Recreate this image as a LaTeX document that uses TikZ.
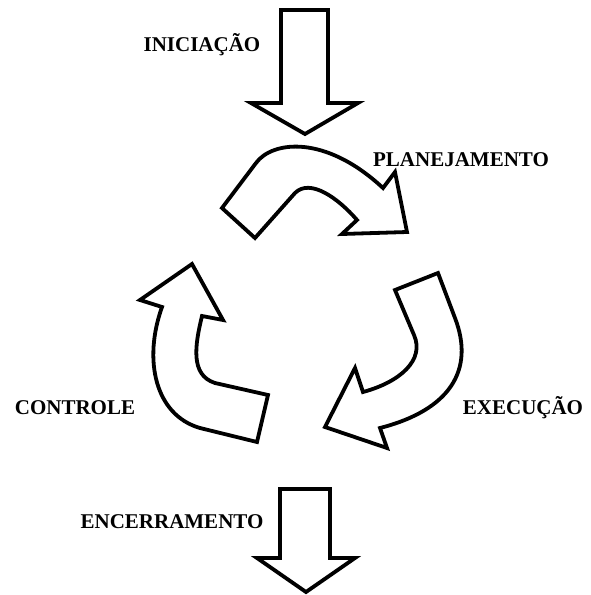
\documentclass[tikz,border=0pt]{standalone}
\usepackage{fontspec}
\setmainfont{Liberation Serif}
\begin{document}
\begin{tikzpicture}[x=1pt,y=-1pt,
  blockarrow/.style={draw=black,line width=3.8pt,fill=white,line join=miter},
  stage/.style={font=\fontsize{21}{21}\selectfont\bfseries,inner sep=0pt,anchor=center}]
\useasboundingbox (0,0) rectangle (590,595);

% entry arrow
\draw[blockarrow] (281,10) -- (328,10) -- (328,103) -- (358,103) -- (305,134)
  -- (251,103) -- (281,103) -- cycle;

% planning arrow (curving right)
\draw[blockarrow] (222,208) -- (256,163) .. controls (272,141) and (325,134) .. (383,188)
  -- (395,172) -- (407,232) -- (342,234) -- (357,220)
  .. controls (338,198) and (310,178) .. (295,193) -- (255,238) -- cycle;

% execution arrow (curving down-left)
\draw[blockarrow] (395,290) -- (438,273) -- (455,318) .. controls (475,370) and (450,410) .. (380,428)
  -- (387,448) -- (325,427) -- (355,368) -- (363,392)
  .. controls (400,382) and (425,360) .. (414,335) -- cycle;

% control arrow (curving up)
\draw[blockarrow] (268,395) -- (257,442) -- (200,428) .. controls (155,415) and (143,360) .. (162,307)
  -- (140,300) -- (192,264) -- (223,320) -- (202,316)
  .. controls (195,345) and (190,375) .. (215,383) -- cycle;

% exit arrow
\draw[blockarrow] (280,489) -- (330,489) -- (330,558) -- (355,558) -- (306,592)
  -- (257,558) -- (280,558) -- cycle;

% stage labels
\node[stage] (ini) at (202,45) {INICIAÇÃO};
\node[stage] (pla) at (461,160) {PLANEJAMENTO};
\node[stage] (exe) at (523,408) {EXECUÇÃO};
\node[stage] (con) at (75,408) {CONTROLE};
\node[stage] (enc) at (172,522) {ENCERRAMENTO};
\end{tikzpicture}
\end{document}
